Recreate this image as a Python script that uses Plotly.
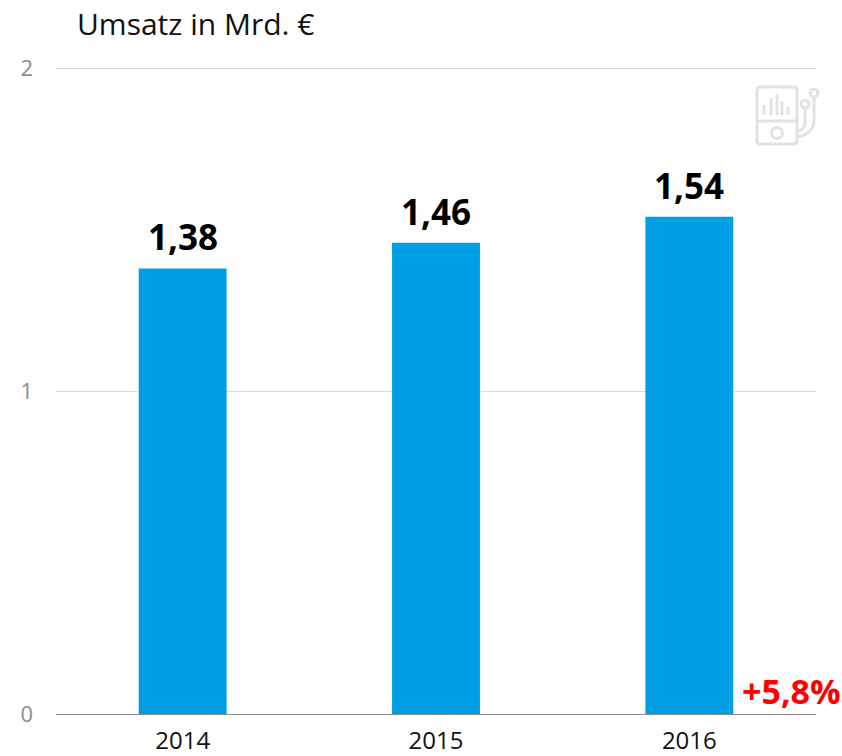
import plotly.graph_objects as go

categories = ["2014", "2015", "2016"]
revenue = [1.38, 1.46, 1.54]
value_labels = ["1,38", "1,46", "1,54"]
y_ticks = [0, 1, 2]
y_top = 2.004
title_text = "Umsatz in Mrd. €"
change_text = "+5,8%"

W, H = 842, 756
L, R, T, B = 56, 26, 67, 42
PW, PH = W - L - R, H - T - B


def px(x):
    return (x - L) / PW


def py(y):
    return 1 - (y - T) / PH


def P(x, y):
    return f"{px(x):.5f},{py(y):.5f}"


ICON = "#e2e2e2"
shapes = []


def path(d):
    shapes.append(dict(type="path", xref="paper", yref="paper", path=d,
                       line=dict(color=ICON, width=3), layer="above"))


def circle(cx, cy, r):
    shapes.append(dict(type="circle", xref="paper", yref="paper",
                       x0=px(cx - r), x1=px(cx + r), y0=py(cy + r), y1=py(cy - r),
                       line=dict(color=ICON, width=3), layer="above"))


# music player icon
path(f"M{P(760,87)} L{P(794,87)} Q{P(797,87)} {P(797,90)} L{P(797,141)} Q{P(797,144)} {P(794,144)} "
     f"L{P(760,144)} Q{P(757,144)} {P(757,141)} L{P(757,90)} Q{P(757,87)} {P(760,87)} Z")
path(f"M{P(757,121)} L{P(797,121)}")
circle(777, 133, 5.5)
for bx, top in [(764, 105), (771, 98), (777, 94), (782, 101), (788, 107)]:
    path(f"M{P(bx,115)} L{P(bx,top)}")
circle(805, 104, 4)
circle(814, 93, 4)
path(f"M{P(805,108)} L{P(805,124)} Q{P(805,130)} {P(797,131)}")
path(f"M{P(814,97)} L{P(814,120)} Q{P(814,134)} {P(797,137)}")

fig = go.Figure(go.Bar(
    x=categories, y=revenue,
    marker=dict(color="#009FE3", line=dict(width=0)),
    hoverinfo="skip",
))

annotations = [
    dict(text=title_text, xref="paper", yref="paper", x=px(75), y=py(23),
         xanchor="left", yanchor="middle", showarrow=False,
         font=dict(family="Open Sans", size=30, color="#111111")),
    dict(text=change_text, xref="paper", yref="paper", x=px(843), y=py(691),
         xanchor="right", yanchor="middle", showarrow=False,
         font=dict(family="Open Sans", size=34, color="#FF0000", weight="bold")),
]
for i, (v, t) in enumerate(zip(revenue, value_labels)):
    annotations.append(dict(text=t, x=i, y=v, xref="x", yref="y", yanchor="bottom",
                            yshift=6, showarrow=False,
                            font=dict(family="Open Sans", size=35, color="#000000", weight="bold")))

fig.update_layout(
    width=W, height=H,
    margin=dict(l=L, r=R, t=T, b=B, pad=0, autoexpand=False),
    paper_bgcolor="white", plot_bgcolor="white",
    bargap=0.653, showlegend=False,
    font=dict(family="Open Sans"),
    shapes=shapes,
    annotations=annotations,
)
fig.update_xaxes(type="category", range=[-0.5, len(categories) - 0.5], categoryorder="array",
                 categoryarray=categories, automargin=False,
                 showgrid=False, showline=True, linecolor="#8c8c8c",
                 linewidth=1, ticks="", ticklabelstandoff=5,
                 tickfont=dict(family="Open Sans", size=24, color="#111111"),
                 zeroline=False)
fig.update_yaxes(range=[0, y_top], tickvals=y_ticks, ticktext=[str(t) for t in y_ticks],
                 automargin=False, showgrid=True, gridcolor="#dcdcdc", gridwidth=1, zeroline=False,
                 showline=False, ticks="", ticklabelstandoff=22,
                 tickfont=dict(family="Open Sans", size=22, color="#8c8c8c"))

fig.write_html("out.html", config=dict(displayModeBar=False),
               post_script="document.body.style.margin='0';document.body.style.overflow='hidden';")
